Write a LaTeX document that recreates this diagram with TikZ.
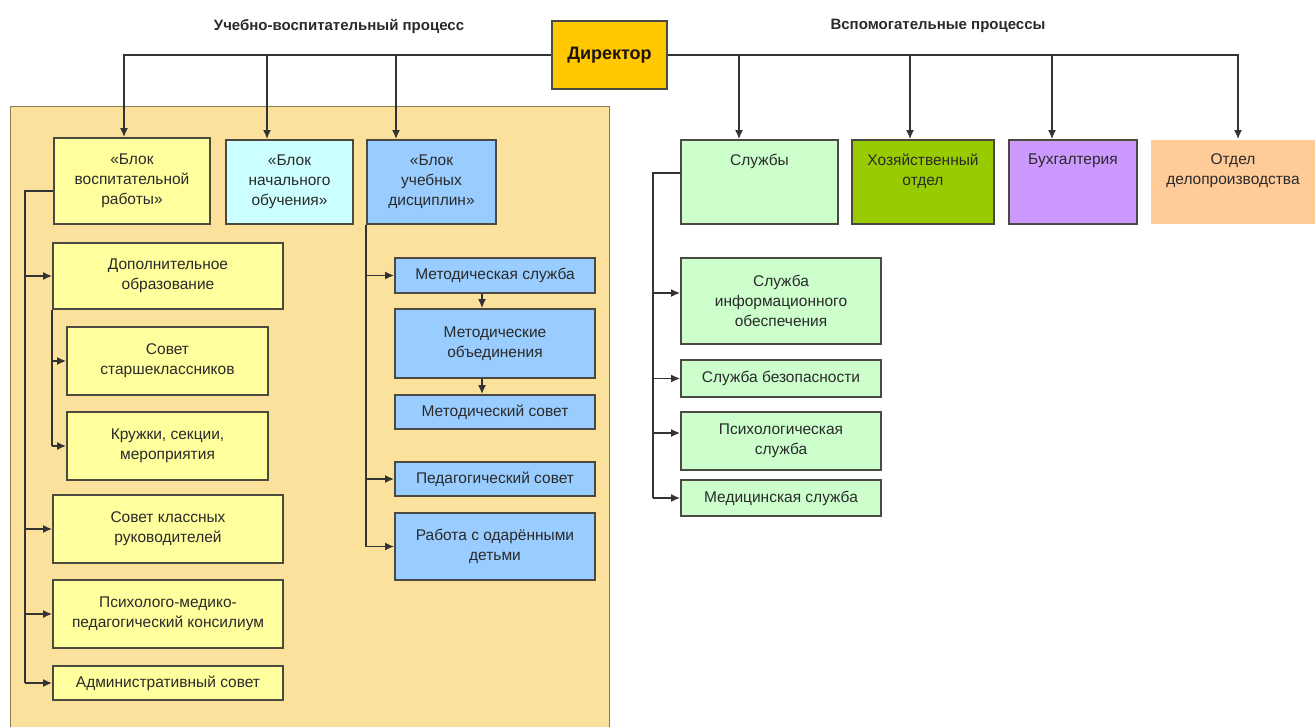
\documentclass[tikz,border=0pt]{standalone}
\usepackage{fontspec}
\setmainfont{Liberation Sans}
\usetikzlibrary{arrows.meta}
\definecolor{panelc}{HTML}{FCE19C}
\definecolor{panelb}{HTML}{8A7A50}
\definecolor{yelc}{HTML}{FFFF9E}
\definecolor{cyanc}{HTML}{CCFFFF}
\definecolor{bluec}{HTML}{99CCFF}
\definecolor{dirc}{HTML}{FFC800}
\definecolor{lgreenc}{HTML}{CCFFCC}
\definecolor{dgreenc}{HTML}{99CC00}
\definecolor{violc}{HTML}{CC99FF}
\definecolor{peachc}{HTML}{FFCC99}
\definecolor{bordc}{HTML}{4A4A40}
\definecolor{linec}{HTML}{333333}
\definecolor{txtc}{HTML}{2A2A2A}
\newcommand{\boxfont}{\fontsize{15.5}{20}\selectfont}
\tikzset{
  box/.style={draw=bordc, line width=1.7pt, align=center, inner sep=2pt, font=\boxfont, text=txtc},
  toplab/.style={anchor=north, yshift=-11pt, align=center, font=\boxfont, text=txtc},
  conn/.style={draw=linec, line width=1.7pt},
  arr/.style={conn, -{Latex[length=9pt,width=8pt]}},
  ttl/.style={font=\fontsize{15}{18}\selectfont\bfseries, text=txtc}
}
\begin{document}
\begin{tikzpicture}[x=1pt,y=-1pt]
\useasboundingbox (0,0) rectangle (1315,727);
\fill[white] (0,0) rectangle (1315,727);
% panel
\draw[fill=panelc, draw=panelb, line width=0.8pt] (10,106) rectangle (609,730);
% titles
\node[ttl] (t1) at (339,26) {Учебно-воспитательный процесс};
\node[ttl] (t2) at (938,26) {Вспомогательные процессы};
% director
\node[box, fill=dirc, minimum width=115pt, minimum height=68pt, font=\fontsize{18}{20}\selectfont\bfseries, text={black!85!brown}] (dir) at (609.5,55) {Директор};
% left blocks
\node[box, fill=yelc, minimum width=156pt, minimum height=86pt] (b1) at (132,181) {«Блок\\воспитательной\\работы»};
\node[box, fill=cyanc, minimum width=127pt, minimum height=84pt] (b2) at (289.5,182) {«Блок\\начального\\обучения»};
\node[box, fill=bluec, minimum width=129pt, minimum height=84pt] (b3) at (431.5,182) {«Блок\\учебных\\дисциплин»};
% right blocks
\node[box, fill=lgreenc, minimum width=157pt, minimum height=84pt, label={[toplab]north:Службы}] (sl) at (759.5,182) {};
\node[box, fill=dgreenc, minimum width=142pt, minimum height=84pt, label={[toplab]north:Хозяйственный\\отдел}] (hoz) at (923,182) {};
\node[box, fill=violc, minimum width=128pt, minimum height=84pt, label={[toplab]north:Бухгалтерия}] (buh) at (1073,182) {};
\node[box, fill=peachc, draw=none, minimum width=164pt, minimum height=84pt, label={[toplab]north:Отдел\\делопроизводства}] (otd) at (1233,182) {};
% left column
\node[box, fill=yelc, minimum width=230pt, minimum height=66pt] (dop) at (168,276) {Дополнительное\\образование};
\node[box, fill=yelc, minimum width=201pt, minimum height=68pt] (sst) at (167.5,361) {Совет\\старшеклассников};
\node[box, fill=yelc, minimum width=201pt, minimum height=68pt] (kru) at (167.5,446) {Кружки, секции,\\мероприятия};
\node[box, fill=yelc, minimum width=230pt, minimum height=68pt] (skr) at (168,529) {Совет классных\\руководителей};
\node[box, fill=yelc, minimum width=230pt, minimum height=68pt] (psi) at (168,614) {Психолого-медико-\\педагогический консилиум};
\node[box, fill=yelc, minimum width=230pt, minimum height=34pt] (adm) at (168,683) {Административный совет};
% blue column
\node[box, fill=bluec, minimum width=200pt, minimum height=35pt] (ms) at (495,275.5) {Методическая служба};
\node[box, fill=bluec, minimum width=200pt, minimum height=69pt] (mo) at (495,343.5) {Методические\\объединения};
\node[box, fill=bluec, minimum width=200pt, minimum height=34pt] (mc) at (495,412) {Методический совет};
\node[box, fill=bluec, minimum width=200pt, minimum height=34pt] (ps) at (495,479) {Педагогический совет};
\node[box, fill=bluec, minimum width=200pt, minimum height=67pt] (rab) at (495,546.5) {Работа с одарёнными\\детьми};
% green column
\node[box, fill=lgreenc, minimum width=200pt, minimum height=86pt] (si) at (781,301) {Служба\\информационного\\обеспечения};
\node[box, fill=lgreenc, minimum width=200pt, minimum height=37pt] (sb) at (781,378.5) {Служба безопасности};
\node[box, fill=lgreenc, minimum width=200pt, minimum height=58pt] (pp) at (781,441) {Психологическая\\служба};
\node[box, fill=lgreenc, minimum width=200pt, minimum height=36pt] (med) at (781,498) {Медицинская служба};
% coordinates for trunk lines
\coordinate (lx) at (25,0);
\coordinate (gx) at (653,0);
\coordinate (siin) at ([yshift=8pt]si.west);
\coordinate (ppin) at ([yshift=8pt]pp.west);
% director connectors
\draw[arr] (dir.west) -| ([xshift=-8pt]b1.north);
\draw[arr] ([xshift=-22.5pt]b2.north |- dir.west) -- ([xshift=-22.5pt]b2.north);
\draw[arr] ([xshift=-35.5pt]b3.north |- dir.west) -- ([xshift=-35.5pt]b3.north);
\draw[arr] (dir.east) -| ([xshift=5pt]otd.north);
\draw[arr] ([xshift=-20.5pt]sl.north |- dir.east) -- ([xshift=-20.5pt]sl.north);
\draw[arr] ([xshift=-13pt]hoz.north |- dir.east) -- ([xshift=-13pt]hoz.north);
\draw[arr] ([xshift=-21pt]buh.north |- dir.east) -- ([xshift=-21pt]buh.north);
% left trunk
\draw[conn] ([yshift=-10pt]b1.west) -| (lx |- adm.west);
\foreach \n in {dop,skr,psi,adm} \draw[arr] (lx |- \n.west) -- (\n.west);
\draw[conn] (dop.south west) -- (dop.south west |- kru.west);
\foreach \n in {sst,kru} \draw[arr] (dop.south west |- \n.west) -- (\n.west);
% blue trunk
\draw[conn] (b3.south west) -- (b3.south west |- rab.west);
\foreach \n in {ms,ps,rab} \draw[arr] (b3.south west |- \n.west) -- (\n.west);
\draw[arr] ([xshift=-13pt]ms.south) -- ([xshift=-13pt]mo.north);
\draw[arr] ([xshift=-13pt]mo.south) -- ([xshift=-13pt]mc.north);
% green trunk
\draw[conn] ([yshift=9pt]sl.west) -| (gx |- med.west);
\draw[arr] (gx |- siin) -- (siin);
\draw[arr] (gx |- ppin) -- (ppin);
\foreach \n in {sb,med} \draw[arr] (gx |- \n.west) -- (\n.west);
\end{tikzpicture}
\end{document}
